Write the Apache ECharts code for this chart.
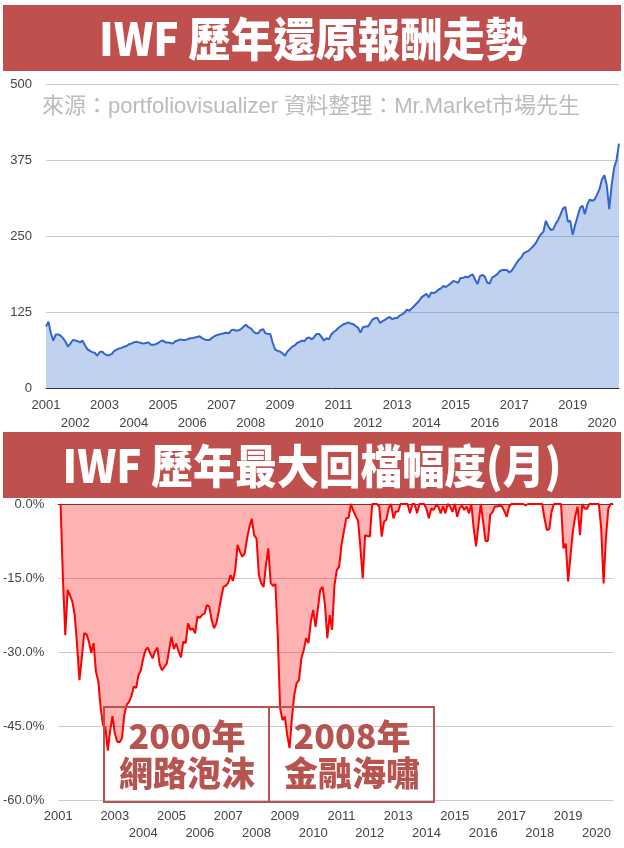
<!DOCTYPE html>
<html>
<head>
<meta charset="utf-8">
<script src="https://cdn.jsdelivr.net/npm/echarts/dist/echarts.min.js"></script>
<style>
html,body{margin:0;padding:0;background:#ffffff;}
#chart{width:624px;height:848px;}
</style>
</head>
<body>
<div id="chart"></div>
<script>
// Year tick labels (one per January)
const yearLabels = ['2001','2002','2003','2004','2005','2006','2007','2008','2009','2010',
  '2011','2012','2013','2014','2015','2016','2017','2018','2019','2020'];

// Growth of IWF, month-end values, Dec 2000 .. Jul 2020
const growthValues = [
  101,109,90,78,88,88,86,82,76,68,73,79,
  78,77,75,78,70,64,61,59,58,53,59,60,
  56,54,54,56,61,63,65,66,68,69,72,73,
  75,76,75,74,73,74,75,71,71,72,74,77,
  78,75,75,74,73,77,78,80,79,79,80,82,
  82,83,84,85,82,80,79,79,82,85,87,88,
  89,90,91,90,95,96,94,95,97,101,104,100,
  98,93,90,90,95,97,90,89,89,74,63,61,
  60,57,53,60,64,68,70,74,76,78,77,82,
  83,80,84,89,89,84,78,82,80,88,92,95,
  99,102,105,106,108,106,105,102,99,91,100,101,
  101,107,113,115,115,107,110,112,115,117,113,115,
  115,119,121,124,129,127,131,135,139,143,149,152,
  155,149,157,156,158,162,164,168,166,169,172,176,
  175,173,181,181,183,182,185,187,178,171,184,186,
  183,173,172,182,184,187,192,194,194,194,190,193,
  199,206,211,215,222,224,226,230,234,239,247,253,
  257,275,266,260,261,270,276,285,295,298,274,275,
  252,268,282,296,300,286,302,310,308,310,318,327,
  343,350,333,294,334,362,375,402
];

// Monthly drawdown (%), Jan 2001 .. Jul 2020
const drawdownValues = [
  0,-15,-26.6,-17.4,-18.5,-19.8,-22.5,-28.6,-35.7,-31.2,-26.2,-26.4,
  -27.9,-30.2,-28.2,-34,-36,-41.4,-44.8,-45.4,-50,-46,-43,-46.5,
  -48.2,-48.3,-47.5,-42.8,-40.7,-40.1,-39,-37,-37.3,-34.7,-33.7,-31.3,
  -29.6,-29.1,-30.3,-31.3,-29.9,-29.1,-32.6,-33.7,-33,-32.3,-29.6,-26.9,
  -29.4,-28.3,-29.9,-31.1,-27.9,-28.2,-24.2,-25.5,-25.2,-26.2,-22.8,-23.1,
  -22.5,-22.2,-20.5,-20.8,-23.5,-25.2,-24.2,-21.8,-19.1,-16.8,-16.6,-16,
  -14.4,-15.6,-13.4,-8.3,-9.7,-10.7,-10,-7,-4.6,-3,-6.3,-7,
  -14.4,-16.1,-16.8,-12.4,-9,-16,-16.6,-16.2,-26.6,-41.4,-43.8,-43.1,
  -46.8,-49.5,-43.4,-38.7,-36.3,-35.7,-31.3,-29.6,-27.2,-28.2,-23.9,-21.5,
  -24.9,-21.2,-17.4,-16.8,-20.5,-27.2,-22.5,-25.5,-16.6,-13.4,-12.7,-8.3,
  -5.6,-2.9,-2.8,0,-1.4,-2.4,-3.4,-8.8,-15.1,-6.3,-6.5,-6.6,
  0,0,0,-0.5,-6.6,-3.6,-3.2,-0.8,0,-2.9,-1.5,-1.5,
  0,0,0,0,-1.9,0,0,-1.9,0,0,0,-1,
  -2.9,-0.9,-1.2,-0.3,-0.5,-1.9,-0.4,-1.9,0,-0.5,-1.6,0,
  -2.6,-0.9,-0.3,-1.2,-0.5,-1.9,0,-5,-8.6,-4.2,0,-3.6,
  -7.5,-7.5,-2.2,-1.6,-0.5,-0.5,-0.3,-0.5,-1.5,-2.6,-0.5,0,
  0,0,0,0,0,-0.3,0,0,0,0,0,0,
  0,-3,-5.3,-5.1,-1.5,0,0,0,0,-9,-8,-15.7,
  -10.4,-5.6,-2.5,-0.5,-6.3,0,-0.9,-1,0,0,0,0,
  0,-5,-16.1,-7,-1,0,0
];

// Value-axis tick labels
const growthTicks = [0, 125, 250, 375, 500];
const drawdownTicks = [-60, -45, -30, -15, 0];

// Text
const title1 = 'IWF 歷年還原報酬走勢';
const title2 = 'IWF 歷年最大回檔幅度(月)';
const sourceNote = '來源：portfoliovisualizer 資料整理：Mr.Market市場先生';
const eventLabels = [['2000年', '網路泡沫'], ['2008年', '金融海嘯']];

const BANNER = '#C0504D';
const BOX = '#B85450';
const LABEL_FONT = '"Liberation Sans", Arial, sans-serif';
const CJK_FONT = '"Noto Sans CJK TC", "Noto Sans CJK SC", sans-serif';

const lastMonth = growthValues.length - 1;

function yearFormatter(v) {
  if (v % 12 !== 0) return '';
  const k = v / 12;
  const y = yearLabels[k];
  if (y === undefined) return '';
  return k % 2 === 0 ? y : '\n' + y;
}

const chart = echarts.init(document.getElementById('chart'), null, {renderer: 'canvas'});

const option = {
  backgroundColor: '#ffffff',
  animation: false,
  grid: [
    {left: 46, right: 5, top: 84, height: 304, containLabel: false},
    {left: 58, right: 11, top: 504, height: 296, containLabel: false}
  ],
  xAxis: [
    {
      gridIndex: 0, type: 'value', min: 0, max: lastMonth, interval: 12,
      axisLine: {show: true, onZero: false, lineStyle: {color: '#333333', width: 1}},
      axisTick: {show: false},
      splitLine: {show: false},
      axisLabel: {
        show: true, formatter: yearFormatter, color: '#444444', fontSize: 13,
        fontFamily: LABEL_FONT, lineHeight: 18, margin: 8,
        showMinLabel: true, showMaxLabel: false, hideOverlap: false
      }
    },
    {
      gridIndex: 1, type: 'value', min: 0, max: lastMonth, interval: 12,
      axisLine: {show: false, onZero: false},
      axisTick: {show: false},
      splitLine: {show: false},
      axisLabel: {
        show: true, formatter: yearFormatter, color: '#444444', fontSize: 13,
        fontFamily: LABEL_FONT, lineHeight: 17, margin: 8,
        showMinLabel: true, showMaxLabel: false, hideOverlap: false
      }
    },
    {
      gridIndex: 1, type: 'value', position: 'top', min: 0, max: lastMonth,
      axisLine: {show: true, onZero: false, lineStyle: {color: '#444444', width: 1}},
      axisTick: {show: false}, axisLabel: {show: false}, splitLine: {show: false}
    }
  ],
  yAxis: [
    {
      gridIndex: 0, type: 'value',
      min: growthTicks[0], max: growthTicks[growthTicks.length - 1],
      interval: growthTicks[1] - growthTicks[0],
      axisLine: {show: false}, axisTick: {show: false},
      splitLine: {show: true, lineStyle: {color: '#cccccc', width: 1}},
      axisLabel: {color: '#444444', fontSize: 13, fontFamily: LABEL_FONT, margin: 14}
    },
    {
      gridIndex: 1, type: 'value',
      min: drawdownTicks[0], max: drawdownTicks[drawdownTicks.length - 1],
      interval: drawdownTicks[1] - drawdownTicks[0],
      axisLine: {show: false}, axisTick: {show: false},
      splitLine: {show: true, lineStyle: {color: '#cccccc', width: 1}},
      axisLabel: {
        color: '#444444', fontSize: 13, fontFamily: LABEL_FONT, margin: 14,
        formatter: function (v) { return v.toFixed(1) + '%'; }
      }
    }
  ],
  series: [
    {
      name: 'growth', type: 'line', xAxisIndex: 0, yAxisIndex: 0,
      data: growthValues.map(function (v, i) { return [i, v]; }),
      symbol: 'none', showSymbol: false, smooth: false,
      lineStyle: {color: '#3366CC', width: 2},
      areaStyle: {color: '#3366CC', opacity: 0.3},
      z: 3
    },
    {
      name: 'drawdown', type: 'line', xAxisIndex: 1, yAxisIndex: 1,
      data: drawdownValues.map(function (v, i) { return [i + 1, v]; }),
      symbol: 'none', showSymbol: false, smooth: false,
      lineStyle: {color: '#FF0000', width: 2},
      areaStyle: {color: '#FF0000', opacity: 0.3},
      z: 3
    }
  ],
  graphic: [
    {type: 'rect', shape: {x: 3, y: 5, width: 618, height: 66}, style: {fill: BANNER}, z: 1},
    {type: 'text', x: 313, y: 39, scaleX: 0.92, z: 2,
      style: {text: title1, fill: '#ffffff', font: '900 46px ' + CJK_FONT, textAlign: 'center', textVerticalAlign: 'middle'}},
    {type: 'text', x: 311, y: 107, z: 2,
      style: {text: sourceNote, fill: '#bbbbbb', font: '22px "Liberation Sans", ' + CJK_FONT, textAlign: 'center', textVerticalAlign: 'middle'}},
    {type: 'rect', shape: {x: 3, y: 432, width: 618, height: 66}, style: {fill: BANNER}, z: 1},
    {type: 'text', x: 312, y: 466, scaleX: 0.91, z: 2,
      style: {text: title2, fill: '#ffffff', font: '900 46px ' + CJK_FONT, textAlign: 'center', textVerticalAlign: 'middle'}},
    {type: 'rect', shape: {x: 104, y: 707, width: 165, height: 95}, style: {fill: 'none', stroke: BOX, lineWidth: 2}, z: 10},
    {type: 'rect', shape: {x: 269, y: 707, width: 165, height: 95}, style: {fill: 'none', stroke: BOX, lineWidth: 2}, z: 10},
    {type: 'text', x: 187, y: 736, z: 10,
      style: {text: eventLabels[0][0], fill: BOX, font: '900 34px ' + CJK_FONT, textAlign: 'center', textVerticalAlign: 'middle'}},
    {type: 'text', x: 187, y: 773, z: 10,
      style: {text: eventLabels[0][1], fill: BOX, font: '900 34px ' + CJK_FONT, textAlign: 'center', textVerticalAlign: 'middle'}},
    {type: 'text', x: 352, y: 736, z: 10,
      style: {text: eventLabels[1][0], fill: BOX, font: '900 34px ' + CJK_FONT, textAlign: 'center', textVerticalAlign: 'middle'}},
    {type: 'text', x: 352, y: 773, z: 10,
      style: {text: eventLabels[1][1], fill: BOX, font: '900 34px ' + CJK_FONT, textAlign: 'center', textVerticalAlign: 'middle'}}
  ]
};

chart.setOption(option);
</script>
</body>
</html>
